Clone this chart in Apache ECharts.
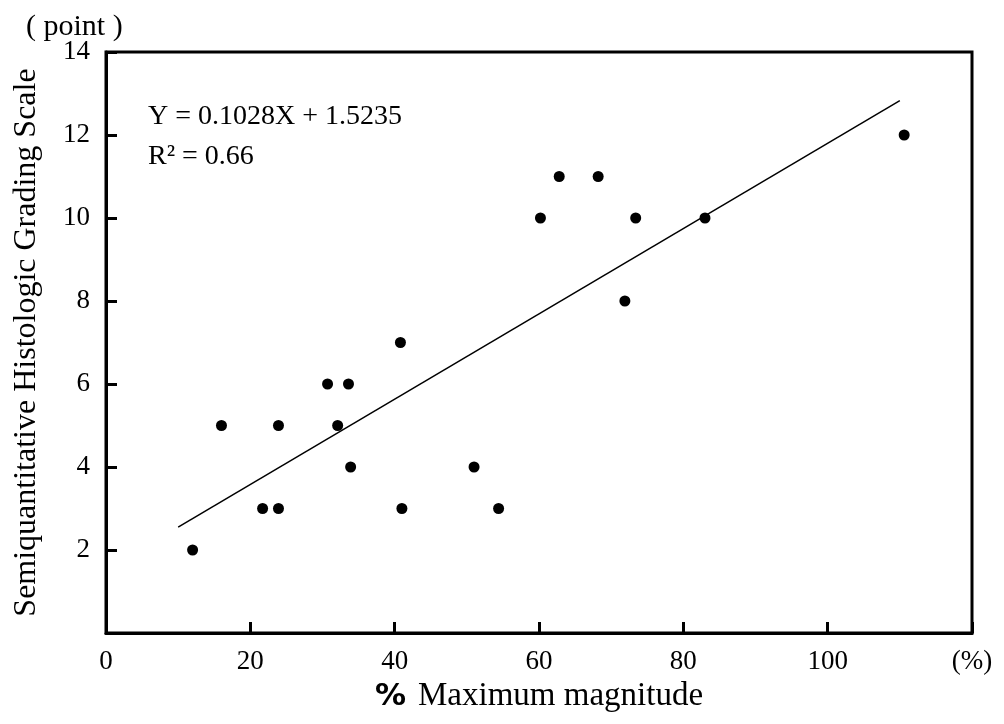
<!DOCTYPE html>
<html><head><meta charset="utf-8">
<script src="https://cdn.jsdelivr.net/npm/echarts@6/dist/echarts.min.js"></script>
<style>html,body{margin:0;padding:0;background:#fff}#c{width:1004px;height:724px}</style>
</head><body><div id="c"></div>
<script>
const xValues = [12, 16, 21.7, 23.9, 23.9, 30.7, 32.1, 33.6, 33.9, 40.8, 41.0, 51.0, 54.4, 60.2, 62.8, 68.2, 71.9, 73.4, 83.0, 110.6];
const yValues = [2, 5, 3, 5, 3, 6, 5, 6, 4, 7, 3, 4, 3, 10, 11, 11, 8, 10, 10, 12];
const fitX = [10, 110];
const fitY = [2.55, 12.83];
const xTickLabels = ['0', '20', '40', '60', '80', '100', '(%)'];
const yTickLabels = ['', '2', '4', '6', '8', '10', '12', '14'];
const equationText = 'Y = 0.1028X + 1.5235';
const r2Text = 'R² = 0.66';
const xTitle = 'Maximum magnitude';
const yTitle = 'Semiquantitative Histologic Grading Scale';
const yUnit = '( point )';

const serif = '"Liberation Serif", "Times New Roman", serif';
const chart = echarts.init(document.getElementById('c'));
chart.setOption({
  animation: false,
  backgroundColor: '#fff',
  grid: { left: 106, right: 32, top: 52, bottom: 91, containLabel: false, outerBoundsMode: 'none',
    show: true, borderColor: '#000', borderWidth: 3, backgroundColor: 'transparent' },
  xAxis: {
    type: 'value', min: 0, max: 120, interval: 20,
    axisLine: { show: true, lineStyle: { color: '#000', width: 3 } },
    axisTick: { inside: true, length: 11, lineStyle: { color: '#000', width: 3 } },
    splitLine: { show: false },
    axisLabel: { color: '#000', fontFamily: serif, fontSize: 27, margin: 15,
      formatter: (v) => xTickLabels[Math.round(v / 20)] },
    name: '{p|%}{t|' + xTitle + '}', nameLocation: 'middle', nameGap: 47,
    nameTextStyle: { rich: {
      p: { fontFamily: '"DejaVu Sans", sans-serif', fontSize: 31, fontWeight: 'bold', color: '#000', padding: [0, 12, 0, 0] },
      t: { fontFamily: serif, fontSize: 33, color: '#000' } } }
  },
  yAxis: {
    type: 'value', min: 0, max: 14, interval: 2,
    axisLine: { show: true, lineStyle: { color: '#000', width: 3 } },
    axisTick: { inside: true, length: 11, lineStyle: { color: '#000', width: 3 } },
    splitLine: { show: false },
    axisLabel: { color: '#000', fontFamily: serif, fontSize: 27, margin: 16,
      formatter: (v) => yTickLabels[Math.round(v / 2)] },
    name: yTitle, nameLocation: 'middle', nameGap: 63, nameRotate: 90,
    nameTextStyle: { fontFamily: serif, fontSize: 32, color: '#000' }
  },
  graphic: [
    { type: 'text', left: 26, top: 12, style: { text: yUnit, font: '30px ' + serif, fill: '#000' } },
    { type: 'text', left: 148, top: 103, style: { text: equationText, font: '28px ' + serif, fill: '#000' } },
    { type: 'text', left: 148, top: 143, style: { text: r2Text, font: '28px ' + serif, fill: '#000' } }
  ],
  series: [
    { type: 'line', data: fitX.map((x, i) => [x, fitY[i]]), symbol: 'none',
      lineStyle: { color: '#000', width: 1.5 }, z: 2 },
    { type: 'scatter', data: xValues.map((x, i) => [x, yValues[i]]), symbol: 'circle', symbolSize: 11,
      itemStyle: { color: '#000', opacity: 1 }, z: 3 }
  ]
});
</script></body></html>
